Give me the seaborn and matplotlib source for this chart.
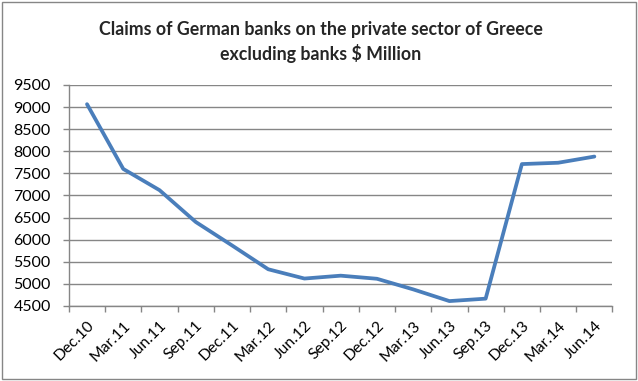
import matplotlib
matplotlib.use("Agg")
import matplotlib.pyplot as plt
import seaborn as sns
import pandas as pd
import numpy as np
from matplotlib.patches import Rectangle

categories = ["Dec.10", "Mar.11", "Jun.11", "Sep.11", "Dec.11", "Mar.12", "Jun.12",
              "Sep.12", "Dec.12", "Mar.13", "Jun.13", "Sep.13", "Dec.13", "Mar.14", "Jun.14"]
values = [9065, 7600, 7120, 6400, 5870, 5330, 5120, 5185, 5115, 4875, 4610, 4665, 7710, 7740, 7880]
yticks = list(range(4500, 9501, 500))

sns.set_theme(style="white")
plt.rcParams['font.family'] = ['Lato', 'DejaVu Sans']

df = pd.DataFrame({"period": categories, "value": values, "pos": np.arange(len(categories))})

fig = plt.figure(figsize=(6.38, 3.81), dpi=100)
ax = fig.add_axes([0.108, 0.197, 0.852, 0.580])
sns.lineplot(data=df, x="pos", y="value", ax=ax, color="#4A7EBB", linewidth=2.7, sort=False)

ax.set_xlim(-0.5, len(categories) - 0.5)
ax.set_ylim(4500, 9500)
ax.set_yticks(yticks)
ax.set_yticklabels([str(t) for t in yticks], fontsize=11.5, color="black")
ax.set_xticks(np.arange(len(categories)))
ax.set_xticklabels(categories, rotation=45, ha="right", rotation_mode="anchor",
                   fontsize=11.3, color="black")
ax.set_xticks(np.arange(len(categories) + 1) - 0.5, minor=True)
ax.tick_params(axis="x", which="major", length=0, pad=9)
ax.tick_params(axis="x", which="minor", length=4, color="#868686", width=1, direction="out", bottom=True)
ax.tick_params(axis="y", length=4, color="#868686", width=1, direction="out", left=True, pad=9)
ax.yaxis.grid(True, color="#868686", linewidth=1)
ax.xaxis.grid(False)
for s in ["top", "right"]:
    ax.spines[s].set_visible(False)
for s in ["left", "bottom"]:
    ax.spines[s].set_color("#868686")
    ax.spines[s].set_linewidth(1)
ax.set_xlabel("")
ax.set_ylabel("")

fig.text(0.503, 0.922, "Claims of German banks on the private sector of Greece",
         ha="center", va="center", fontsize=12.8, fontweight="bold")
fig.text(0.503, 0.860, "excluding banks $ Million",
         ha="center", va="center", fontsize=12.8, fontweight="bold")

fig.patches.append(Rectangle((0.003, 0.004), 0.994, 0.992, transform=fig.transFigure,
                             fill=False, edgecolor="#868686", linewidth=1))

fig.savefig("out.png", dpi=100)
